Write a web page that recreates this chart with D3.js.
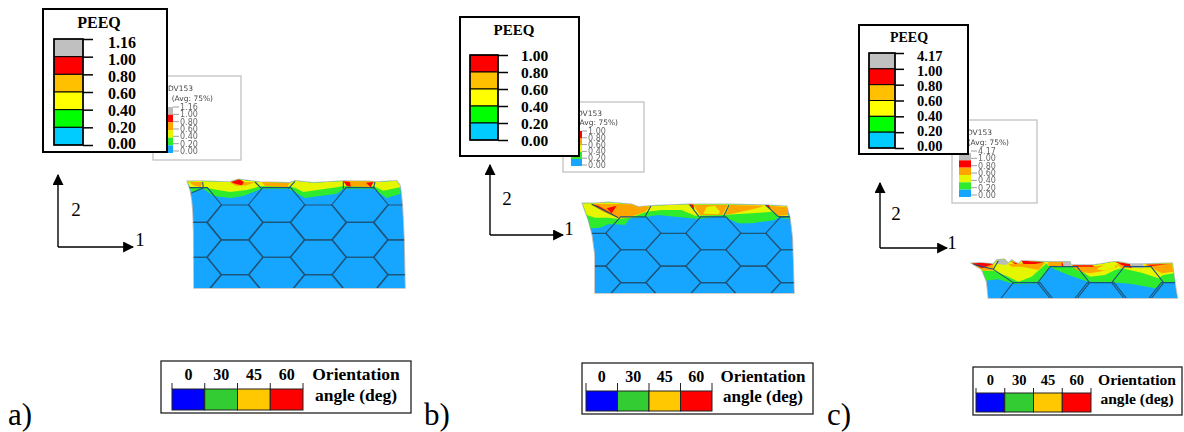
<!DOCTYPE html>
<html><head><meta charset="utf-8">
<style>html,body{margin:0;background:#fff}svg{display:block}text{font-family:"Liberation Serif",serif}</style>
<script src="https://cdn.jsdelivr.net/npm/d3@7"></script></head><body><div id="c"></div>
<script>
// ---------- legend data ----------
const levelsA = ["1.16","1.00","0.80","0.60","0.40","0.20","0.00"];
const levelsB = ["1.00","0.80","0.60","0.40","0.20","0.00"];
const levelsC = ["4.17","1.00","0.80","0.60","0.40","0.20","0.00"];
const bandColorsFull = ["#C0C0C0","#FF0000","#FFC000","#FFFF00","#00FF00","#00CCFF"];
const bandColorsNoGrey = ["#FF0000","#FFC000","#FFFF00","#00FF00","#00CCFF"];
const fieldColorsFull = ["#BBBBBB","#FF0000","#FFA500","#E6F500","#2DEB2D","#18A5FF"];
const fieldColorsNoGrey = ["#FF0000","#FFA500","#E6F500","#2DEB2D","#18A5FF"];
const angles = ["0","30","45","60"];
const angleColors = ["#0000FF","#33CC33","#FFC800","#FF0000"];
const panelNames = ["a)","b)","c)"];
const smallTitle = ["ODV153","(Avg: 75%)"];

// ---------- field outlines (crop units, 3 per pixel) ----------
const topA = [[22,28],[60,27],[80,28],[150,30],[175,22],[215,27],[240,30],[330,32],[345,26],[400,32],[490,27],[570,28],[590,30],[650,26],[660,40]];
const sideRA = [[663,60],[667,100],[672,200],[675,348]];
const sideLA = [[42,348],[41,180],[39,120],[36,85],[31,55]];
const greenA = [[35,62],[70,50],[100,72],[150,78],[190,72],[245,50],[325,50],[375,78],[470,65],[490,50],[580,50],[620,78],[662,65]];
const yellowA = [[30,45],[70,45],[100,52],[150,60],[200,54],[240,43],[320,43],[345,47],[370,60],[470,46],[490,42],[580,42],[610,56],[660,46]];
const orangeA = [[[28,30],[68,30],[62,46],[40,40]],[[245,30],[330,32],[320,45],[255,42]],[[150,32],[225,30],[200,40],[170,42]],[[490,27],[585,28],[570,45],[505,43]]];
const redA = [[[152,30],[178,22],[192,30],[185,40],[165,35]],[[490,28],[510,30],[512,44],[500,42]],[[558,32],[580,30],[572,46]]];
const stubsA = [[[68,30],[70,48]],[[225,30],[245,50]],[[325,50],[345,28]],[[490,50],[490,28]],[[580,50],[585,30]],[[70,48],[35,62]]];

const topB = [[22,25],[60,25],[100,22],[170,28],[190,36],[230,32],[340,28],[460,28],[570,30],[635,34]];
const sideRB = [[645,70],[652,130],[657,294]];
const sideLB = [[60,294],[60,180],[52,120],[40,75]];
const greenB = [[45,100],[75,98],[100,88],[125,88],[150,90],[165,70],[215,65],[250,60],[300,65],[370,72],[420,65],[445,65],[490,85],[530,85],[600,75],[610,68],[642,72]];
const yellowB = [[35,60],[60,68],[100,68],[130,72],[165,68],[215,50],[260,45],[320,45],[360,62],[440,60],[480,58],[530,55],[590,50],[610,62],[640,65]];
const orangeB = [[[45,26],[180,28],[225,35],[210,50],[160,68],[130,68],[85,50]],[[355,30],[458,30],[442,60],[375,60]],[[465,30],[570,32],[545,40],[480,55],[450,60]],[[575,32],[635,36],[640,60],[610,62]]];
const yellowBlobsB = [[[385,56],[395,36],[420,32],[435,50],[430,58]]];
const redB = [[[50,28],[70,32],[130,66],[100,52]],[[95,40],[125,32],[110,55]],[[340,28],[355,28],[358,45]],[[570,30],[582,30],[586,42]]];
const stubsB = [[[50,28],[130,68]],[[210,65],[228,32]],[[372,65],[345,30]],[[445,65],[462,30]],[[610,65],[572,30]],[[610,65],[645,65]]];

const topC = [[20,40],[45,38],[85,42],[95,30],[118,28],[130,40],[140,30],[160,42],[170,32],[245,35],[315,35],[318,45],[385,45],[405,42],[445,35],[460,35],[495,42],[535,42],[610,40],[622,40]];
const sideRC = [[630,100],[637,144]];
const sideLC = [[70,144],[65,95],[50,58]];
const greenC = [[60,92],[100,88],[145,102],[220,100],[255,52],[310,75],[370,95],[440,97],[500,102],[570,115],[595,100],[632,95]];
const yellowC = [[50,62],[85,62],[130,80],[160,95],[200,80],[245,40],[250,48],[330,50],[375,80],[420,75],[450,60],[470,55],[530,68],[580,85],[595,75],[630,70]];
const orangeC = [[[25,45],[85,42],[85,60],[55,62]],[[130,42],[240,38],[220,60],[195,55],[170,50],[140,50]],[[250,35],[295,35],[295,48],[250,48]],[[320,50],[400,48],[440,40],[460,50],[420,62],[375,70],[345,65]],[[455,42],[535,50],[470,55]],[[540,42],[620,40],[625,65],[590,70]]];
const yellowBlobsC = [[[395,58],[420,42],[445,36],[452,52],[420,62]]];
const redC = [[[20,40],[70,38],[85,42],[50,55]],[[135,32],[160,42],[150,42]],[[170,32],[240,36],[210,42],[175,42]],[[290,35],[297,48],[290,48]],[[320,46],[385,46],[385,50],[330,50]],[[450,35],[495,42],[500,55],[470,45]],[[540,45],[610,42],[560,48]]];
const greyC = [[[90,40],[100,30],[118,28],[130,42],[120,45]],[[295,35],[318,35],[318,48],[295,48]],[[495,42],[535,42],[535,55],[500,52]]];
const stubsC = [[[85,58],[148,100]],[[20,42],[85,58]],[[85,58],[100,32]]];

const panels = [
 {name:panelNames[0],nameX:8,levels:levelsA,colors:bandColorsFull,field:fieldColorsFull,
  box:[43,9,167,152],title:[99,28,16],bar:[54,83,39,145],tick:10,lx:108,ly:[43,144],fs:16,
  axes:[58,247,175,133],two:[76,209],one:[140,239],
  small:{box:[153,76,241,160],t:[193,88,213,98],bar:[160,173,107,153],lx:180,ly:[107,151]},
  crop:[180,172],top:topA,sideR:sideRA,sideL:sideLA,green:greenA,yellow:yellowA,orange:orangeA,blobs:[],red:redA,grey:[],stubs:stubsA,
  hex:{x0:40,y0:99,dx:125,dy:104.5,hf:42,he:85,iFrom:0,iTo:5,rows:3},
  ori:{box:[161,361,411,413],bar:[172,303,389,410],tickTop:383,ly:380,fs:16,tx:356,ty:[380,401],tfs:17.5}},
 {name:panelNames[1],nameX:424,levels:levelsB,colors:bandColorsNoGrey,field:fieldColorsNoGrey,
  box:[460,17,579,156],title:[514,35,15],bar:[470,498,55,140],tick:10,lx:521,ly:[56,141],fs:15.5,
  axes:[490,235,165,563],two:[507,198],one:[569,228],
  small:{box:[563,102,644,172],t:[602,113,618,122],bar:[571,582,131,166],lx:588,ly:[131,165]},
  crop:[575,195],top:topB,sideR:sideRB,sideL:sideLB,green:greenB,yellow:yellowB,orange:orangeB,blobs:yellowBlobsB,red:redB,grey:[],stubs:stubsB,
  hex:{x0:175,y0:115,dx:120,dy:98.5,hf:38,he:83,iFrom:-1,iTo:4,rows:3},
  ori:{box:[582,363,813,414],bar:[586,712,391,411],tickTop:383,ly:382,fs:16,tx:763,ty:[382,402],tfs:17}},
 {name:panelNames[2],nameX:827,levels:levelsC,colors:bandColorsFull,field:fieldColorsFull,
  box:[859,25,968,154],title:[909,42,14],bar:[869,895,53,148],tick:9,lx:917,ly:[56,146],fs:14.5,
  axes:[880,248,183,947],two:[896,213],one:[952,242],
  small:{box:[952,120,1037,203],t:[992,132,1009,142],bar:[959,971,153,197],lx:978,ly:[151,195]},
  crop:[965,250],top:topC,sideR:sideRC,sideL:sideLC,green:greenC,yellow:yellowC,orange:orangeC,blobs:yellowBlobsC,red:redC,grey:greyC,stubs:stubsC,
  hex:{x0:296,y0:98,dx:111,dy:96,hf:40,he:78,iFrom:-1,iTo:3,rows:1},
  ori:{box:[973,367,1182,415],bar:[976,1091,393,412],tickTop:388,ly:385,fs:14.5,tx:1137,ty:[385,404],tfs:15.6}}
];

const W=1184,H=432;
const svg=d3.select("#c").append("svg").attr("width",W).attr("height",H);
const defs=svg.append("defs");
defs.append("filter").attr("id","soft").attr("x","-5%").attr("y","-5%").attr("width","110%").attr("height","110%")
  .append("feGaussianBlur").attr("stdDeviation",0.6);
defs.append("filter").attr("id","softer").attr("x","-5%").attr("y","-5%").attr("width","110%").attr("height","110%")
  .append("feGaussianBlur").attr("stdDeviation",0.45);
const mk=defs.append("marker").attr("id","arrow").attr("viewBox","0 0 10 10").attr("refX",9).attr("refY",5)
  .attr("markerWidth",11).attr("markerHeight",11).attr("markerUnits","userSpaceOnUse").attr("orient","auto");
mk.append("path").attr("d","M0,0L10,5L0,10Z").attr("fill","#000");

panels.forEach((p,pi)=>{
  const g=svg.append("g");
  // crop-unit scales for the contour field
  const sx=d3.scaleLinear().domain([0,3]).range([p.crop[0],p.crop[0]+1]);
  const sy=d3.scaleLinear().domain([0,3]).range([p.crop[1],p.crop[1]+1]);
  const line=d3.line().x(d=>sx(d[0])).y(d=>sy(d[1]));
  const closed=pts=>line(pts)+"Z";

  // small original contour legend
  const s=p.small, sg=g.append("g").attr("filter","url(#softer)");
  sg.append("rect").attr("x",s.box[0]).attr("y",s.box[1]).attr("width",s.box[2]-s.box[0]).attr("height",s.box[3]-s.box[1])
    .attr("fill","#fff").attr("stroke","#BDBDBD").attr("stroke-width",1.2);
  smallTitle.forEach((t,i)=>sg.append("text").attr("x",s.t[i*2]).attr("y",s.t[i*2+1]+2.5).attr("text-anchor","end")
    .style("font-family","'DejaVu Sans'").style("font-size","7.5px").attr("fill","#444").text(t));
  const sBand=d3.scaleBand().domain(p.field).range([s.bar[2],s.bar[3]]);
  sg.selectAll(null).data(p.field).join("rect").attr("x",s.bar[0]).attr("width",s.bar[1]-s.bar[0])
    .attr("y",d=>sBand(d)).attr("height",sBand.bandwidth()).attr("fill",d=>d);
  const sLab=d3.scalePoint().domain(p.levels).range([s.ly[0],s.ly[1]]);
  sg.selectAll(null).data(p.levels).join("text").attr("x",s.lx).attr("y",d=>sLab(d)+3)
    .style("font-family","'DejaVu Sans'").style("font-size","8px").attr("fill","#666").text(d=>d);
  sg.selectAll(null).data(p.levels).join("line").attr("x1",s.bar[1]).attr("x2",s.lx-1)
    .attr("y1",d=>sLab(d)).attr("y2",d=>sLab(d)).attr("stroke","#777").attr("stroke-width",.7);

  // PEEQ legend
  const [bx0,by0,bx1,by1]=p.box;
  g.append("rect").attr("x",bx0).attr("y",by0).attr("width",bx1-bx0).attr("height",by1-by0)
    .attr("fill","#fff").attr("stroke","#000").attr("stroke-width",2);
  g.append("text").attr("x",p.title[0]).attr("y",p.title[1]).attr("text-anchor","middle")
    .style("font-weight","700").style("font-size",p.title[2]+"px").text("PEEQ");
  const yL=d3.scalePoint().domain(p.levels).range([p.bar[2],p.bar[3]]);
  const yT=d3.scalePoint().domain(p.levels).range(p.ly);
  const lev=p.levels;
  g.selectAll(null).data(p.colors).join("rect").attr("x",p.bar[0]).attr("width",p.bar[1]-p.bar[0])
    .attr("y",(d,i)=>yL(lev[i])).attr("height",(d,i)=>yL(lev[i+1])-yL(lev[i])).attr("fill",d=>d)
    .attr("stroke","#000").attr("stroke-width",1);
  g.append("rect").attr("x",p.bar[0]).attr("width",p.bar[1]-p.bar[0])
    .attr("y",p.bar[2]).attr("height",p.bar[3]-p.bar[2]).attr("fill","none").attr("stroke","#000").attr("stroke-width",1.5);
  const axL=g.append("g").attr("transform",`translate(${p.bar[1]},0)`)
    .call(d3.axisRight(yL).tickSize(p.tick).tickFormat(""));
  axL.select(".domain").remove();
  axL.selectAll("line").attr("stroke","#000").attr("stroke-width",1.5);
  g.selectAll(null).data(lev).join("text").attr("x",p.lx).attr("y",d=>yT(d)).attr("dy",".34em")
    .style("font-weight","700").style("font-size",p.fs+"px").text(d=>d);

  // coordinate arrows
  const [ox,oy,ty,rx]=p.axes;
  g.append("line").attr("x1",ox).attr("y1",oy).attr("x2",ox).attr("y2",ty).attr("stroke","#000").attr("stroke-width",1.4).attr("marker-end","url(#arrow)");
  g.append("line").attr("x1",ox).attr("y1",oy).attr("x2",rx).attr("y2",oy).attr("stroke","#000").attr("stroke-width",1.4).attr("marker-end","url(#arrow)");
  [["2",p.two],["1",p.one]].forEach(([t,c])=>g.append("text").attr("x",c[0]).attr("y",c[1]+6.5).attr("text-anchor","middle")
    .style("font-size","19px").text(t));

  // contour field
  const outline=[...p.top,...p.sideR,...p.sideL];
  const cid="clip"+pi;
  defs.append("clipPath").attr("id",cid).append("path").attr("d",closed(outline));
  const fg=g.append("g").attr("filter","url(#soft)");
  fg.append("path").attr("d",closed(outline)).attr("fill","none").attr("stroke","#BBB").attr("stroke-width",1.5);
  const f=fg.append("g").attr("clip-path",`url(#${cid})`);
  const n=p.field.length;
  const blue=p.field[n-1], green=p.field[n-2], yellow=p.field[n-3], orange=p.field[n-4], red=p.field[n-5];
  f.append("path").attr("d",closed(outline)).attr("fill",blue);
  f.append("path").attr("d",closed([...p.top,...p.green.slice().reverse()])).attr("fill",green);
  f.append("path").attr("d",closed([...p.top,...p.yellow.slice().reverse()])).attr("fill",yellow);
  f.selectAll(null).data(p.orange).join("path").attr("d",closed).attr("fill",orange);
  f.selectAll(null).data(p.blobs).join("path").attr("d",closed).attr("fill",yellow);
  f.selectAll(null).data(p.red).join("path").attr("d",closed).attr("fill",red);
  f.selectAll(null).data(p.grey).join("path").attr("d",closed).attr("fill","#BBBBBB");
  // hexagonal fibre mesh
  const h=p.hex, cells=[];
  d3.range(h.iFrom,h.iTo+1).forEach(i=>d3.range(h.rows).forEach(j=>{
    cells.push([h.x0+i*h.dx, h.y0+j*h.dy+(i%2?h.dy/2:0)]);
  }));
  f.selectAll(null).data(cells).join("path").attr("d",c=>closed([
    [c[0]-h.hf,c[1]-h.dy/2],[c[0]+h.hf,c[1]-h.dy/2],[c[0]+h.he,c[1]],
    [c[0]+h.hf,c[1]+h.dy/2],[c[0]-h.hf,c[1]+h.dy/2],[c[0]-h.he,c[1]]]))
    .attr("fill","none").attr("stroke","#1D5578").attr("stroke-width",1.1);
  f.selectAll(null).data(p.stubs).join("path").attr("d",line).attr("fill","none").attr("stroke","#1D5578").attr("stroke-width",1.1);

  // orientation legend
  const o=p.ori;
  g.append("rect").attr("x",o.box[0]).attr("y",o.box[1]).attr("width",o.box[2]-o.box[0]).attr("height",o.box[3]-o.box[1])
    .attr("fill","#fff").attr("stroke","#222").attr("stroke-width",1.3);
  const xA=d3.scaleBand().domain(angles).range([o.bar[0],o.bar[1]]);
  g.selectAll(null).data(angles).join("rect").attr("x",d=>xA(d)).attr("y",o.bar[2]).attr("width",xA.bandwidth())
    .attr("height",o.bar[3]-o.bar[2]).attr("fill",(d,i)=>angleColors[i]).attr("stroke","#222").attr("stroke-width",1);
  const edges=[...angles.map(d=>xA(d)),o.bar[1]];
  g.selectAll(null).data(edges).join("line").attr("x1",d=>d).attr("x2",d=>d).attr("y1",o.tickTop).attr("y2",o.bar[2])
    .attr("stroke","#222").attr("stroke-width",1);
  g.selectAll(null).data(angles).join("text").attr("x",d=>xA(d)+xA.bandwidth()/2).attr("y",o.ly).attr("text-anchor","middle")
    .style("font-weight","700").style("font-size",o.fs+"px").text(d=>d);
  ["Orientation","angle (deg)"].forEach((t,i)=>g.append("text").attr("x",o.tx).attr("y",o.ty[i]).attr("text-anchor","middle")
    .style("font-weight","700").style("font-size",o.tfs+"px").text(t));

  g.append("text").attr("x",p.nameX).attr("y",425).style("font-size","31px").text(p.name);
});
</script></body></html>
